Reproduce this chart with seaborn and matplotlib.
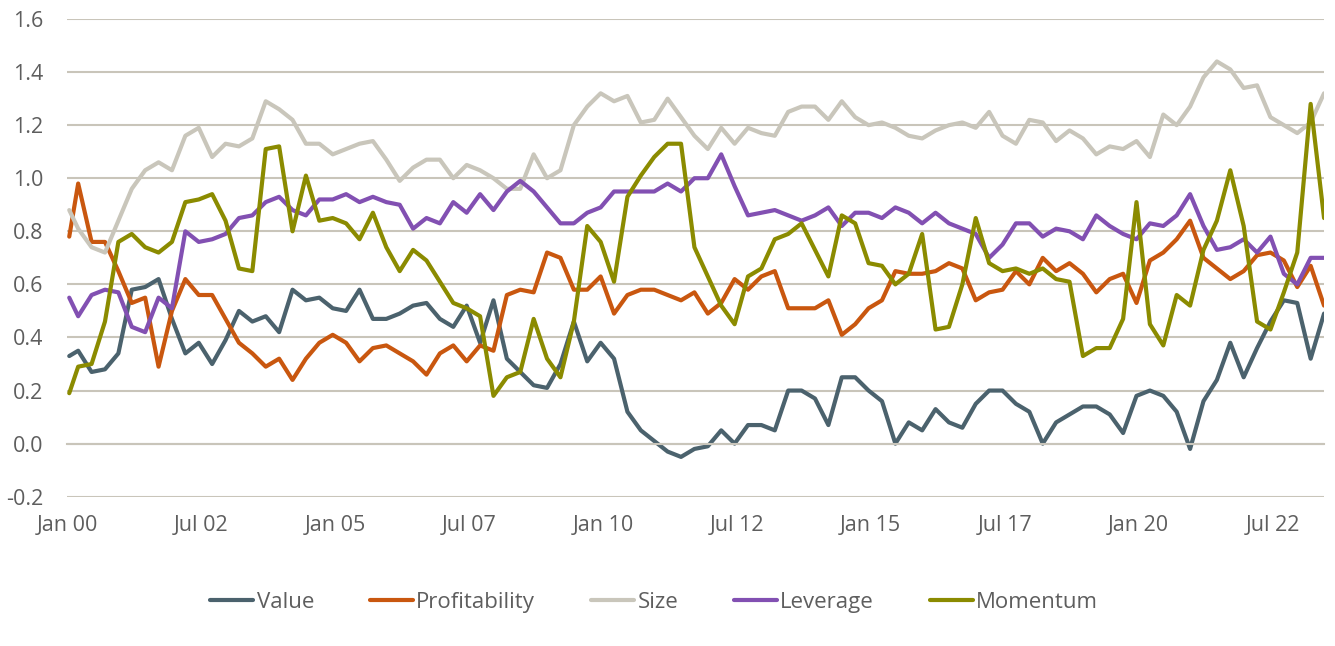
import numpy as np
import pandas as pd
import matplotlib
matplotlib.use('Agg')
import matplotlib.pyplot as plt
import seaborn as sns

# data: first point Jan 2000, then quarterly (Mar, Jun, Sep, Dec) to Jun 2023
dates = pd.DatetimeIndex(['2000-01-01']).append(pd.date_range('2000-03-01', '2023-06-01', freq='3MS'))

value = [0.33, 0.35, 0.27, 0.28, 0.34, 0.58, 0.59, 0.62, 0.47, 0.34, 0.38, 0.30, 0.39, 0.50, 0.46, 0.48, 0.42, 0.58, 0.54, 0.55, 0.51, 0.50, 0.58, 0.47,
         0.47, 0.49, 0.52, 0.53, 0.47, 0.44, 0.52, 0.38, 0.54, 0.32, 0.27, 0.22, 0.21, 0.30, 0.46, 0.31, 0.38, 0.32, 0.12, 0.05, 0.01, -0.03, -0.05,
         -0.02, -0.01, 0.05, 0.00, 0.07, 0.07, 0.05, 0.20, 0.20, 0.17, 0.07, 0.25, 0.25, 0.20, 0.16, 0.00, 0.08, 0.05, 0.13, 0.08, 0.06, 0.15, 0.20, 0.20,
         0.15, 0.12, 0.00, 0.08, 0.11, 0.14, 0.14, 0.11, 0.04, 0.18, 0.20, 0.18, 0.12, -0.02, 0.16, 0.24, 0.38, 0.25, 0.36, 0.46, 0.54, 0.53, 0.32, 0.49]
profitability = [0.78, 0.98, 0.76, 0.76, 0.65, 0.53, 0.55, 0.29, 0.50, 0.62, 0.56, 0.56, 0.47, 0.38, 0.34, 0.29, 0.32, 0.24, 0.32, 0.38, 0.41, 0.38, 0.31, 0.36,
                 0.37, 0.34, 0.31, 0.26, 0.34, 0.37, 0.31, 0.37, 0.35, 0.56, 0.58, 0.57, 0.72, 0.70, 0.58, 0.58, 0.63, 0.49, 0.56, 0.58, 0.58, 0.56, 0.54,
                 0.57, 0.49, 0.53, 0.62, 0.58, 0.63, 0.65, 0.51, 0.51, 0.51, 0.54, 0.41, 0.45, 0.51, 0.54, 0.65, 0.64, 0.64, 0.65, 0.68, 0.66, 0.54, 0.57, 0.58,
                 0.65, 0.60, 0.70, 0.65, 0.68, 0.64, 0.57, 0.62, 0.64, 0.53, 0.69, 0.72, 0.77, 0.84, 0.70, 0.66, 0.62, 0.65, 0.71, 0.72, 0.69, 0.59, 0.67, 0.52]
size = [0.88, 0.81, 0.74, 0.72, 0.84, 0.96, 1.03, 1.06, 1.03, 1.16, 1.19, 1.08, 1.13, 1.12, 1.15, 1.29, 1.26, 1.22, 1.13, 1.13, 1.09, 1.11, 1.13, 1.14,
        1.07, 0.99, 1.04, 1.07, 1.07, 1.00, 1.05, 1.03, 1.00, 0.96, 0.96, 1.09, 1.00, 1.03, 1.20, 1.27, 1.32, 1.29, 1.31, 1.21, 1.22, 1.30, 1.23,
        1.16, 1.11, 1.19, 1.13, 1.19, 1.17, 1.16, 1.25, 1.27, 1.27, 1.22, 1.29, 1.23, 1.20, 1.21, 1.19, 1.16, 1.15, 1.18, 1.20, 1.21, 1.19, 1.25, 1.16,
        1.13, 1.22, 1.21, 1.14, 1.18, 1.15, 1.09, 1.12, 1.11, 1.14, 1.08, 1.24, 1.20, 1.27, 1.38, 1.44, 1.41, 1.34, 1.35, 1.23, 1.20, 1.17, 1.21, 1.32]
leverage = [0.55, 0.48, 0.56, 0.58, 0.57, 0.44, 0.42, 0.55, 0.51, 0.80, 0.76, 0.77, 0.79, 0.85, 0.86, 0.91, 0.93, 0.88, 0.86, 0.92, 0.92, 0.94, 0.91, 0.93,
            0.91, 0.90, 0.81, 0.85, 0.83, 0.91, 0.87, 0.94, 0.88, 0.95, 0.99, 0.95, 0.89, 0.83, 0.83, 0.87, 0.89, 0.95, 0.95, 0.95, 0.95, 0.98, 0.95,
            1.00, 1.00, 1.09, 0.97, 0.86, 0.87, 0.88, 0.86, 0.84, 0.86, 0.89, 0.82, 0.87, 0.87, 0.85, 0.89, 0.87, 0.83, 0.87, 0.83, 0.81, 0.79, 0.70, 0.75,
            0.83, 0.83, 0.78, 0.81, 0.80, 0.77, 0.86, 0.82, 0.79, 0.77, 0.83, 0.82, 0.86, 0.94, 0.82, 0.73, 0.74, 0.77, 0.72, 0.78, 0.64, 0.60, 0.70, 0.70]
momentum = [0.19, 0.29, 0.30, 0.46, 0.76, 0.79, 0.74, 0.72, 0.76, 0.91, 0.92, 0.94, 0.84, 0.66, 0.65, 1.11, 1.12, 0.80, 1.01, 0.84, 0.85, 0.83, 0.77, 0.87,
            0.74, 0.65, 0.73, 0.69, 0.61, 0.53, 0.51, 0.48, 0.18, 0.25, 0.27, 0.47, 0.32, 0.25, 0.46, 0.82, 0.76, 0.61, 0.93, 1.01, 1.08, 1.13, 1.13,
            0.74, 0.63, 0.52, 0.45, 0.63, 0.66, 0.77, 0.79, 0.83, 0.73, 0.63, 0.86, 0.83, 0.68, 0.67, 0.60, 0.64, 0.79, 0.43, 0.44, 0.60, 0.85, 0.68, 0.65,
            0.66, 0.64, 0.66, 0.62, 0.61, 0.33, 0.36, 0.36, 0.47, 0.91, 0.45, 0.37, 0.56, 0.52, 0.73, 0.84, 1.03, 0.82, 0.46, 0.43, 0.57, 0.72, 1.28, 0.85]

factors = ['Value', 'Profitability', 'Size', 'Leverage', 'Momentum']
colors = ['#4B626D', '#C9570F', '#C9C6BB', '#8250B2', '#8B8B00']
tick_dates = pd.date_range('2000-01-01', '2022-07-01', freq='30MS')

# month index (centre of month) as x position
x = (dates.year - 2000) * 12 + dates.month - 1 + 0.5
tick_pos = (tick_dates.year - 2000) * 12 + tick_dates.month - 1
tick_labels = tick_dates.strftime('%b %y')

series = dict(zip(factors, [value, profitability, size, leverage, momentum]))
df = pd.DataFrame([(xi, f, v) for f in factors for xi, v in zip(x, series[f])],
                  columns=['x', 'factor', 'val'])

sns.set_theme(style='white')
plt.rcParams['font.family'] = ['Open Sans', 'DejaVu Sans']
plt.rcParams['axes.unicode_minus'] = False

grid_c = '#C9C5BA'
text_c = '#5E5E5E'

fig = plt.figure(figsize=(13.35, 6.46), dpi=100)
ax = fig.add_axes([0.0502, 0.2311, 0.9416, 0.7395])

sns.lineplot(data=df, x='x', y='val', hue='factor', hue_order=factors,
             palette=colors, linewidth=3, ax=ax)

ax.set_xlim(0, x[-1])
ax.set_ylim(-0.2, 1.6)
yt = np.round(np.arange(-0.2, 1.61, 0.2), 1)
ax.set_yticks(yt, [f'{v:.1f}' for v in yt])
ax.yaxis.grid(True, color=grid_c, linewidth=1.5)
ax.set_axisbelow(True)
for s in ['top', 'right', 'left']:
    ax.spines[s].set_visible(False)
ax.spines['bottom'].set_position(('data', 0))
ax.spines['bottom'].set_color(grid_c)
ax.spines['bottom'].set_linewidth(1.5)
ax.set_xticks(tick_pos)
ax.tick_params(axis='x', direction='inout', length=11, width=1.3, color=grid_c,
               labelbottom=False)
ax.tick_params(axis='y', length=0, pad=17, labelsize=15.5, labelcolor=text_c)
ax.set_xlabel('')
ax.set_ylabel('')

sec = ax.secondary_xaxis('bottom')
sec.set_xticks(tick_pos, tick_labels)
sec.tick_params(length=0, pad=13, labelsize=15.5, labelcolor=text_c)
sec.spines['bottom'].set_visible(False)

sns.move_legend(ax, 'center', bbox_to_anchor=(0.49, 0.068), bbox_transform=fig.transFigure,
                ncol=5, frameon=False, title=None, fontsize=16,
                handlelength=1.95, handletextpad=0.15, columnspacing=2.5)
leg = ax.get_legend()
for t in leg.get_texts():
    t.set_color(text_c)
for h in leg.get_lines():
    h.set_linewidth(3)
    h.set_solid_capstyle('round')

fig.savefig('out.png', dpi=100)
